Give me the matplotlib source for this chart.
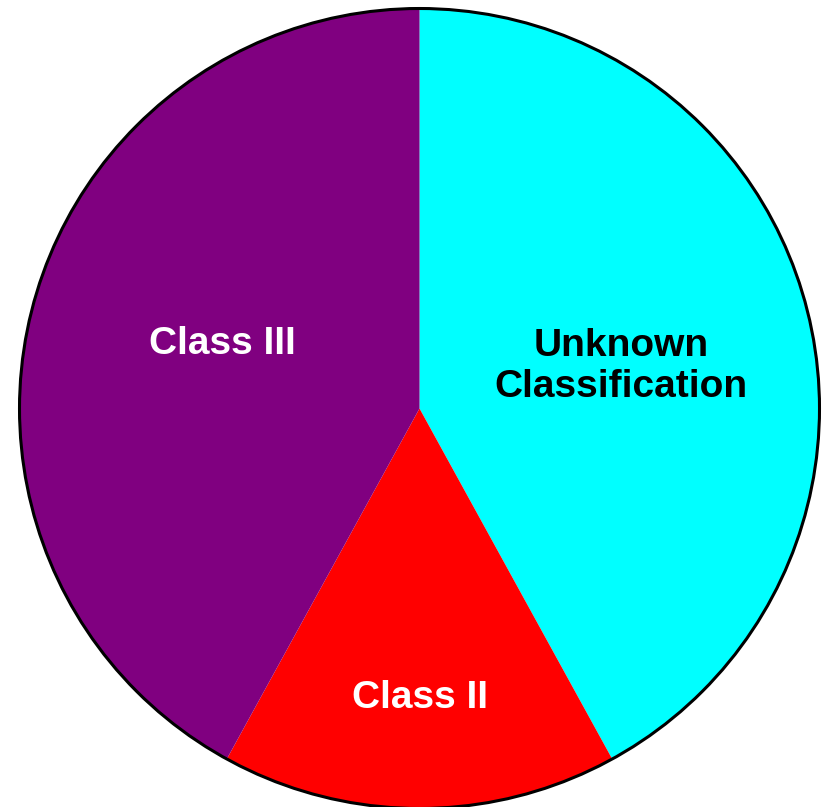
import matplotlib
matplotlib.use("Agg")
import matplotlib.pyplot as plt
from matplotlib.patches import Circle

categories = ["Unknown\nClassification", "Class II", "Class III"]
values = [42, 16, 42]
colors = ["#00FFFF", "#FF0000", "#800080"]
text_colors = ["black", "white", "white"]

fig = plt.figure(figsize=(8.27, 8.07), dpi=100)
ax = fig.add_axes([0, 0, 1, 1])
ax.axis("off")

wedges, _ = ax.pie(values, colors=colors, startangle=90, counterclock=False,
                   radius=1.0, center=(0, 0), wedgeprops=dict(linewidth=0))
ax.add_patch(Circle((0, 0), 1.0, fill=False, edgecolor="black", linewidth=2.2, zorder=5))

ax.set_xlim(-419.5 / 400, (827 - 419.5) / 400)
ax.set_ylim(-398.5 / 400, (807 - 398.5) / 400)
ax.set_aspect("auto")

font = dict(family=["Liberation Sans", "DejaVu Sans"], fontsize=28, fontweight="bold")
# baseline positions of the first line (data units)
label_pos = [(0.504, 0.131), (0.0, -0.749), (-0.494, 0.136)]
line_step = 0.1025
for lab, (x, y), tc in zip(categories, label_pos, text_colors):
    for i, line in enumerate(lab.split("\n")):
        ax.text(x, y - i * line_step, line, ha="center", va="baseline", color=tc, **font)

fig.savefig("out.png", dpi=100)
